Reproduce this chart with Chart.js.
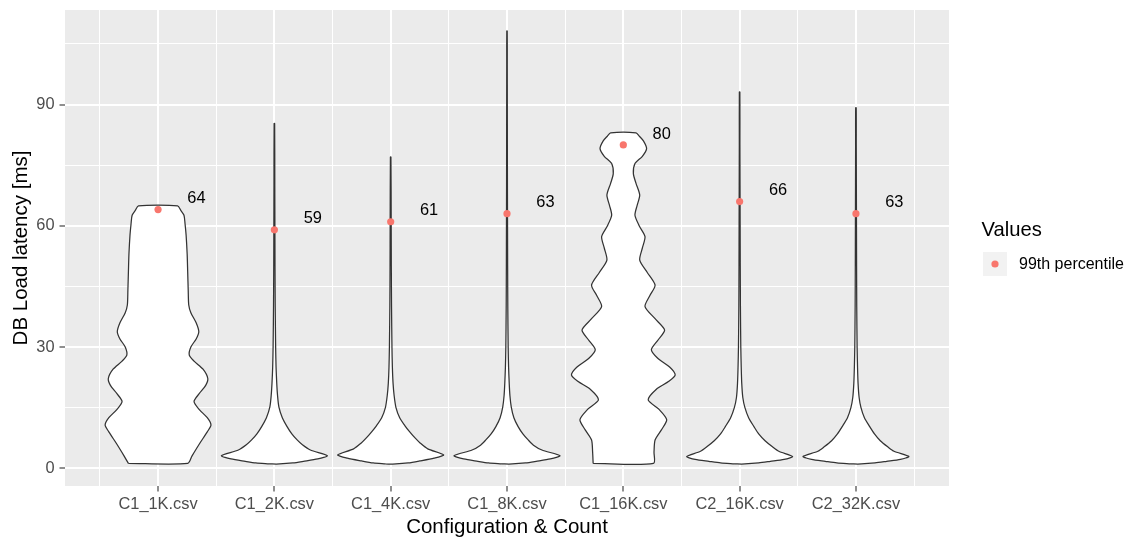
<!DOCTYPE html>
<html><head><meta charset="utf-8">
<script src="https://cdn.jsdelivr.net/npm/chart.js@4.4.1/dist/chart.umd.min.js"></script>
<style>html,body{margin:0;padding:0;background:#fff}#wrap{width:1138px;height:540px;position:relative}canvas{display:block}</style>
</head><body><div id="wrap"><canvas id="c" width="1138" height="540"></canvas></div>
<script>
// ---------- data ----------
const categories = ['C1_1K.csv','C1_2K.csv','C1_4K.csv','C1_8K.csv','C1_16K.csv','C2_16K.csv','C2_32K.csv'];
const p99 = [64, 59, 61, 63, 80, 66, 63];
const yMajorTicks = [0, 30, 60, 90];
const yMinorTicks = [15, 45, 75, 105];
const xTitle = 'Configuration & Count';
const yTitle = 'DB Load latency [ms]';
const legendTitle = 'Values';
const legendLabel = '99th percentile';

// violin outlines: latency levels (ms) and relative density width (0..1)
const c1_1k_y = [1.2,3,6,9,10.7,12.5,14.5,16.5,18.5,20.5,22.2,24.5,26.5,28,30,32,33.8,36,38.5,40.4,44,48.6,53,57.7,60.5,62.6,63.8,64.9];
const c1_1k_w = [0.56,0.64,0.78,0.93,1.0,0.93,0.78,0.68,0.78,0.90,0.94,0.85,0.68,0.59,0.62,0.72,0.77,0.72,0.62,0.58,0.57,0.56,0.55,0.53,0.51,0.49,0.43,0.37];

const c1_2k_y = [1.05,1.3,1.7,2.3,3.1,4.5,5.8,7.0,8.5,10.3,12.5,15.2,18,21,25,30,40,50,60,70,85.3];
const c1_2k_w = [0.10,0.35,0.55,0.82,1.0,0.68,0.53,0.43,0.33,0.24,0.15,0.085,0.06,0.045,0.032,0.024,0.016,0.012,0.01,0.008,0.005];

const c1_4k_y = [1.05,1.3,1.8,2.5,3.3,4.8,6.2,7.5,9,10.5,12.5,15,18,21,25,30,40,50,60,77.0];
const c1_4k_w = [0.10,0.33,0.55,0.82,1.0,0.70,0.56,0.46,0.36,0.27,0.17,0.10,0.065,0.045,0.032,0.024,0.016,0.012,0.01,0.005];

const c1_8k_y = [1.05,1.3,1.7,2.3,3.1,4.5,5.7,7.0,8.5,10.3,12.5,15.2,18,21,25,30,40,50,60,70,80,90,100,108.2];
const c1_8k_w = [0.10,0.35,0.55,0.82,1.0,0.66,0.50,0.40,0.30,0.21,0.13,0.08,0.055,0.042,0.03,0.022,0.015,0.012,0.01,0.008,0.007,0.006,0.005,0.004];

const c1_16k_y = [1.2,4,7,9.5,12,14.5,16.9,19.5,21.5,23.1,25,27.2,29.3,31.8,34.2,37,40,42.7,45.3,48.5,51.5,54.5,57.3,60,62.6,65,67.6,70.5,72.9,75.4,77.2,79.1,81,82.2,83.0];
const c1_16k_w = [0.57,0.58,0.60,0.72,0.82,0.68,0.47,0.62,0.86,0.98,0.88,0.65,0.53,0.66,0.78,0.60,0.41,0.50,0.60,0.45,0.31,0.36,0.41,0.30,0.22,0.26,0.31,0.24,0.19,0.22,0.36,0.44,0.38,0.30,0.24];

const c2_16k_y = [1.05,1.3,1.7,2.2,2.9,4.2,5.3,6.8,8.5,10.3,12.5,15,17.5,21,25,30,40,50,60,70,80,93.1];
const c2_16k_w = [0.10,0.36,0.58,0.84,1.0,0.74,0.62,0.48,0.36,0.27,0.17,0.10,0.06,0.04,0.03,0.022,0.015,0.012,0.01,0.008,0.006,0.005];

const c2_32k_y = [1.05,1.3,1.7,2.2,2.9,4.2,5.3,6.8,8.5,10.3,12.5,15,17.5,21,25,30,40,50,60,70,80,89.2];
const c2_32k_w = [0.10,0.36,0.58,0.84,1.0,0.72,0.60,0.46,0.35,0.26,0.16,0.095,0.06,0.04,0.03,0.022,0.015,0.012,0.01,0.008,0.006,0.005];

const violinLevels = [c1_1k_y, c1_2k_y, c1_4k_y, c1_8k_y, c1_16k_y, c2_16k_y, c2_32k_y];
const violinWidths = [c1_1k_w, c1_2k_w, c1_4k_w, c1_8k_w, c1_16k_w, c2_16k_w, c2_32k_w];

// ---------- style ----------
const FONT = "'Liberation Sans', Arial, Helvetica, sans-serif";
const HALF = 0.455;      // max half-width of a violin in category units
const POINT_COLOR = '#F8766D';
Chart.defaults.font.family = FONT;

function outline(idx, ys, ws) {
  const pts = [];
  for (let i = 0; i < ys.length; i++) pts.push({x: idx - ws[i] * HALF, y: ys[i]});
  for (let i = ys.length - 1; i >= 0; i--) pts.push({x: idx + ws[i] * HALF, y: ys[i]});
  pts.push({x: idx - ws[0] * HALF, y: ys[0]});
  return pts;
}

const datasets = [{
  label: legendLabel,
  data: p99.map((v, i) => ({x: i, y: v})),
  pointRadius: 3.6, pointBackgroundColor: POINT_COLOR, pointBorderWidth: 0,
  showLine: false
}];
categories.forEach((c, i) => {
  datasets.push({
    label: c,
    data: outline(i, violinLevels[i], violinWidths[i]),
    showLine: true, pointRadius: 0, borderColor: '#333333', borderWidth: 1.25,
    backgroundColor: '#ffffff', fill: 'shape', tension: 0.25
  });
});

const xTickVals = [];
for (let i = 0; i < categories.length; i++) { xTickVals.push(i - 0.5, i); }
xTickVals.push(categories.length - 0.5);
const yTickVals = [...yMajorTicks, ...yMinorTicks].sort((a, b) => a - b);

const isMajorX = v => Number.isInteger(v);
const isMajorY = v => yMajorTicks.includes(v);

const panelBg = {
  id: 'panelBg',
  beforeDraw(chart) {
    const {ctx, chartArea: a} = chart;
    ctx.save();
    ctx.fillStyle = '#ffffff';
    ctx.fillRect(0, 0, chart.width, chart.height);
    ctx.fillStyle = '#EBEBEB';
    ctx.fillRect(a.left, a.top, a.right - a.left, a.bottom - a.top);
    ctx.restore();
  }
};

const extras = {
  id: 'extras',
  afterDatasetsDraw(chart) {
    const {ctx, scales: {x, y}} = chart;
    ctx.save();
    ctx.fillStyle = '#000000';
    ctx.font = '16.4px ' + FONT;
    ctx.textAlign = 'center';
    ctx.textBaseline = 'middle';
    p99.forEach((v, i) => {
      ctx.fillText(String(v), x.getPixelForValue(i + 0.33), y.getPixelForValue(v + 2.7));
    });
    ctx.restore();
  },
  afterDraw(chart) {
    const {ctx} = chart;
    ctx.save();
    ctx.fillStyle = '#000000';
    ctx.textAlign = 'left';
    ctx.textBaseline = 'middle';
    ctx.font = '20.2px ' + FONT;
    ctx.fillText(legendTitle, 981.5, 230);
    ctx.fillStyle = '#F2F2F2';
    ctx.fillRect(983, 252, 24, 24);
    ctx.fillStyle = POINT_COLOR;
    ctx.beginPath(); ctx.arc(995, 264, 3.6, 0, Math.PI * 2); ctx.fill();
    ctx.fillStyle = '#000000';
    ctx.font = '16px ' + FONT;
    ctx.fillText(legendLabel, 1019, 264.5);
    ctx.restore();
  }
};

new Chart(document.getElementById('c'), {
  type: 'scatter',
  data: {datasets},
  plugins: [panelBg, extras],
  options: {
    responsive: false, animation: false, events: [],
    layout: {padding: {left: 0, right: 189, top: 10, bottom: 0}},
    plugins: {legend: {display: false}, tooltip: {enabled: false}},
    scales: {
      x: {
        type: 'linear', min: -0.8, max: 6.8,
        afterBuildTicks: s => { s.ticks = xTickVals.map(v => ({value: v})); },
        afterFit: s => { s.height = 54; s.paddingLeft = 0; s.paddingRight = 0; },
        border: {display: false},
        grid: {
          color: '#ffffff',
          lineWidth: c => (c.tick && isMajorX(c.tick.value)) ? 2 : 1,
          drawTicks: true, tickLength: 5.5, tickWidth: 1.1,
          tickColor: c => (c.tick && isMajorX(c.tick.value)) ? '#333333' : 'rgba(0,0,0,0)'
        },
        ticks: {
          autoSkip: false, maxRotation: 0, minRotation: 0, padding: 3,
          color: '#4D4D4D', font: {size: 16.4, family: FONT},
          callback: v => isMajorX(v) ? categories[v] : ''
        },
        title: {display: true, text: xTitle, color: '#000000', font: {size: 20.5, family: FONT}, padding: {top: 0, bottom: 0}}
      },
      y: {
        type: 'linear', min: -4.4, max: 113.4,
        afterBuildTicks: s => { s.ticks = yTickVals.map(v => ({value: v})); },
        afterFit: s => { s.width = 65; s.paddingTop = 0; s.paddingBottom = 0; },
        border: {display: false},
        grid: {
          color: '#ffffff',
          lineWidth: c => (c.tick && isMajorY(c.tick.value)) ? 2 : 1,
          drawTicks: true, tickLength: 5.5, tickWidth: 1.1,
          tickColor: c => (c.tick && isMajorY(c.tick.value)) ? '#333333' : 'rgba(0,0,0,0)'
        },
        ticks: {
          autoSkip: false, padding: 5,
          color: '#4D4D4D', font: {size: 16.4, family: FONT},
          callback: v => isMajorY(v) ? String(v) : ''
        },
        title: {display: true, text: yTitle, color: '#000000', font: {size: 20.5, family: FONT}, padding: {top: 9, bottom: 0}}
      }
    }
  }
});
</script></body></html>
